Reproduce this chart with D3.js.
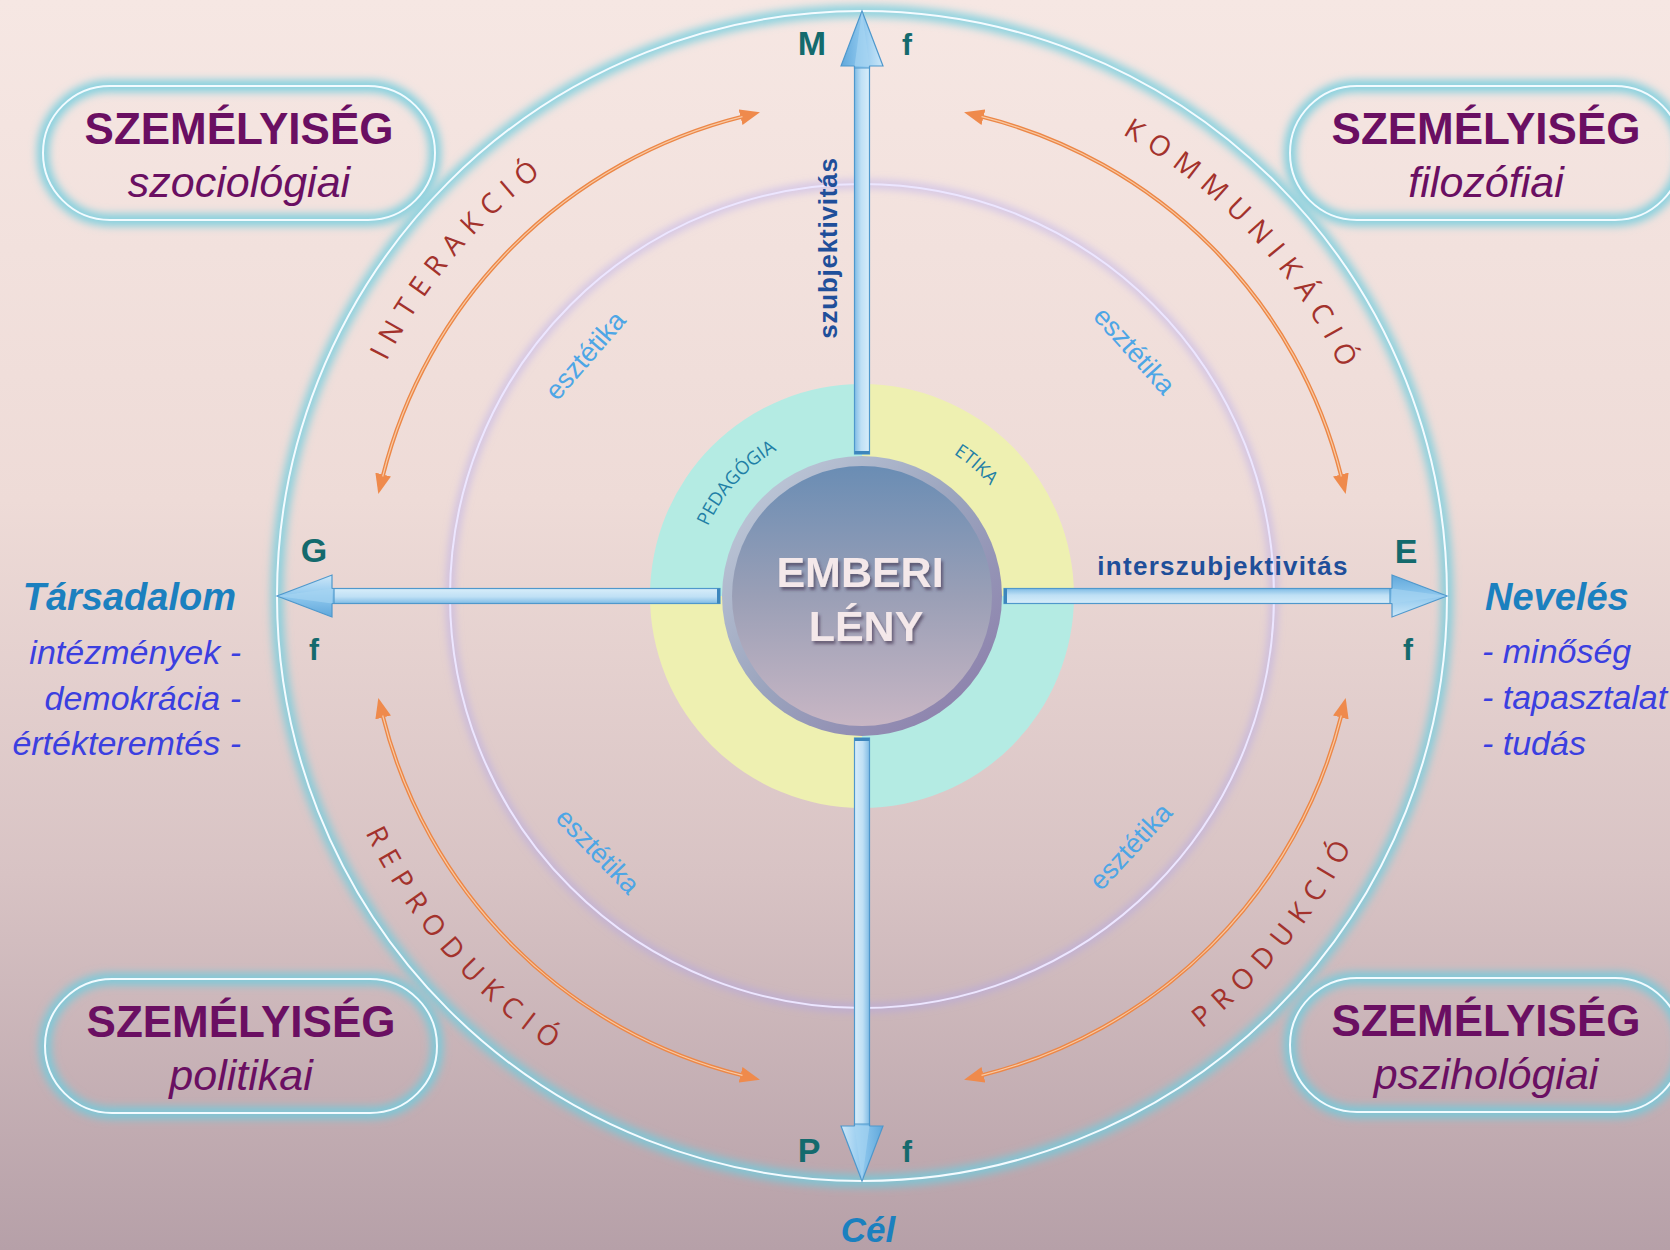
<!DOCTYPE html>
<html>
<head>
<meta charset="utf-8">
<script src="https://cdn.jsdelivr.net/npm/d3@7"></script>
<style>
  html, body { margin: 0; padding: 0; background: #f4e4e0; }
  svg { display: block; }
</style>
</head>
<body>
<div id="chart"></div>
<script>
// --- diagram content ---
const axisLetters = ['M', 'E', 'P', 'G'];
const axisAngles = [0, 90, 180, 270];           // degrees, clockwise from top
const axisTexts = ['szubjektivitás', 'interszubjektivitás'];
const centerLines = ['EMBERI', 'LÉNY'];
const ringLabels = ['PEDAGÓGIA', 'ETIKA'];
const ringLabelAngles = [-48, 41];
const ringColors = ['#b4ebe3', '#eef0b1', '#b4ebe3', '#eef0b1']; // TL, TR, BR, BL
const ringStarts = [-90, 0, 90, 180];
const arcLabels = ['INTERAKCIÓ', 'KOMMUNIKÁCIÓ', 'PRODUKCIÓ', 'REPRODUKCIÓ'];
const arcLabelAngles = [-50, 47.5, 129, 229];
const arcQuadrants = [-90, 0, 90, 180];
const esztetikaLabel = 'esztétika';
const esztetikaAngles = [-49, 48, 133, 226];
const boxTitles = ['SZEMÉLYISÉG', 'SZEMÉLYISÉG', 'SZEMÉLYISÉG', 'SZEMÉLYISÉG'];
const boxSubtitles = ['szociológiai', 'filozófiai', 'pszihológiai', 'politikai'];
const leftTitle = 'Társadalom';
const leftItems = ['intézmények -', 'demokrácia -', 'értékteremtés -'];
const rightTitle = 'Nevelés';
const rightItems = ['- minőség', '- tapasztalat', '- tudás'];
const bottomTitle = 'Cél';

const W = 1670, H = 1250;
const cx = 862, cy = 596;
const R_OUTER = 585, R_ORANGE = 494, R_INNER = 412, R_RING = 212, R_DISC = 140;

const rad = d3.scaleLinear().domain([0, 360]).range([0, 2 * Math.PI]);
const pt = (r, deg) => [cx + r * Math.sin(rad(deg)), cy - r * Math.cos(rad(deg))];

const svg = d3.select('#chart').append('svg')
  .attr('width', W).attr('height', H)
  .style('font-family', '"Liberation Sans", Arial, sans-serif');

const defs = svg.append('defs');

// background gradient
const bg = defs.append('linearGradient').attr('id', 'bg').attr('x1', 0).attr('y1', 0).attr('x2', 0).attr('y2', 1);
[['0%', '#f6e7e3'], ['40%', '#eedbd7'], ['70%', '#d8c3c4'], ['100%', '#b6a0a8']]
  .forEach(([o, c]) => bg.append('stop').attr('offset', o).attr('stop-color', c));

defs.append('filter').attr('id', 'glow').attr('x', '-20%').attr('y', '-20%').attr('width', '140%').attr('height', '140%')
  .append('feGaussianBlur').attr('stdDeviation', 4);

const shadow = defs.append('filter').attr('id', 'shadow').attr('x', '-20%').attr('y', '-20%').attr('width', '140%').attr('height', '140%');
shadow.append('feDropShadow').attr('dx', 2).attr('dy', 3).attr('stdDeviation', 1.5)
  .attr('flood-color', '#3c2c48').attr('flood-opacity', 0.6);

// disc gradients
const discFill = defs.append('linearGradient').attr('id', 'discFill').attr('x1', 0).attr('y1', 0).attr('x2', 0).attr('y2', 1);
[['0%', '#6a8db4'], ['50%', '#9a9fb6'], ['100%', '#c8b6c4']]
  .forEach(([o, c]) => discFill.append('stop').attr('offset', o).attr('stop-color', c));
const discRim = defs.append('linearGradient').attr('id', 'discRim').attr('x1', 0).attr('y1', 0).attr('x2', 1).attr('y2', 1);
[['0%', '#c6d0de'], ['50%', '#9aa3bd'], ['100%', '#8a78a8']]
  .forEach(([o, c]) => discRim.append('stop').attr('offset', o).attr('stop-color', c));

// blue bar gradients (across the bar width, in local coords)
const barGrad = defs.append('linearGradient').attr('id', 'barGrad')
  .attr('gradientUnits', 'userSpaceOnUse').attr('x1', 0).attr('y1', -8).attr('x2', 0).attr('y2', 8);
[['0%', '#7bb9e4'], ['45%', '#bfe0f5'], ['100%', '#d9eefa']]
  .forEach(([o, c]) => barGrad.append('stop').attr('offset', o).attr('stop-color', c));
const headGrad = defs.append('linearGradient').attr('id', 'headGrad')
  .attr('gradientUnits', 'userSpaceOnUse').attr('x1', 0).attr('y1', -22).attr('x2', 0).attr('y2', 22);
[['0%', '#5ea6da'], ['50%', '#8fc8ee'], ['100%', '#cfe8f8']]
  .forEach(([o, c]) => headGrad.append('stop').attr('offset', o).attr('stop-color', c));

// orange arrow marker
defs.append('marker').attr('id', 'orangeHead')
  .attr('viewBox', '0 -8 20 16').attr('refX', 2).attr('refY', 0)
  .attr('markerWidth', 20).attr('markerHeight', 16).attr('markerUnits', 'userSpaceOnUse')
  .attr('orient', 'auto-start-reverse')
  .append('path').attr('d', 'M0,-8L20,0L0,8Z').attr('fill', '#ef8a4c');

svg.append('rect').attr('width', W).attr('height', H).attr('fill', 'url(#bg)');

// --- glowing circles ---
function glowCircle(r, glowColor, lineColor, glowWidth) {
  svg.append('circle').attr('cx', cx).attr('cy', cy).attr('r', r)
    .attr('fill', 'none').attr('stroke', glowColor).attr('stroke-width', glowWidth)
    .attr('filter', 'url(#glow)');
  svg.append('circle').attr('cx', cx).attr('cy', cy).attr('r', r)
    .attr('fill', 'none').attr('stroke', lineColor).attr('stroke-width', 2);
}
glowCircle(R_OUTER, 'rgba(110,205,222,0.8)', '#f4fbff', 12);
glowCircle(R_INNER, 'rgba(170,160,240,0.55)', '#ece6ff', 7);

// --- boxes ---
const boxW = 392, boxH = 134;
const boxCenters = [[239, 153], [1486, 153], [1486, 1045], [241, 1046]];
boxCenters.forEach(([bx, by], i) => {
  const g = svg.append('g').attr('transform', `translate(${bx},${by})`);
  g.append('rect').attr('x', -boxW / 2).attr('y', -boxH / 2).attr('width', boxW).attr('height', boxH)
    .attr('rx', boxH / 2).attr('fill', 'none')
    .attr('stroke', 'rgba(110,205,222,0.85)').attr('stroke-width', 12).attr('filter', 'url(#glow)');
  g.append('rect').attr('x', -boxW / 2).attr('y', -boxH / 2).attr('width', boxW).attr('height', boxH)
    .attr('rx', boxH / 2).attr('fill', 'none').attr('stroke', '#f2fbff').attr('stroke-width', 2);
  g.append('text').attr('text-anchor', 'middle').attr('y', -9)
    .style('font-size', '44px').style('font-weight', 'bold').style('fill', '#6a0f62')
    .text(boxTitles[i]);
  g.append('text').attr('text-anchor', 'middle').attr('y', 44)
    .style('font-size', '43px').style('font-style', 'italic').style('fill', '#6a0f62')
    .text(boxSubtitles[i]);
});

// --- orange double-headed arcs ---
arcQuadrants.forEach(q => {
  const p = d3.path();
  const a0 = rad(q + 14 - 90), a1 = rad(q + 76 - 90);
  p.arc(cx, cy, R_ORANGE, a0, a1, false);
  svg.append('path').attr('d', p.toString()).attr('fill', 'none')
    .attr('stroke', '#ec8747').attr('stroke-width', 4)
    .attr('marker-start', 'url(#orangeHead)').attr('marker-end', 'url(#orangeHead)');
  svg.append('path').attr('d', p.toString()).attr('fill', 'none')
    .attr('stroke', '#f8c9a4').attr('stroke-width', 1.2);
});

// --- labels along the orange arcs ---
arcLabels.forEach((label, i) => {
  const a = arcLabelAngles[i];
  const top = Math.cos(rad(a)) > 0;
  const r = top ? 530 : 550;
  const p = d3.path();
  if (top) {
    p.arc(cx, cy, r, rad(a - 60 - 90), rad(a + 60 - 90), false);
  } else {
    p.arc(cx, cy, r, rad(a + 60 - 90), rad(a - 60 - 90), true);
  }
  const id = 'arcLabel' + i;
  defs.append('path').attr('id', id).attr('d', p.toString());
  svg.append('text')
    .style('font-family', '"Open Sans", sans-serif').style('font-size', '28px')
    .style('letter-spacing', '9.5px').style('fill', '#a3322c')
    .append('textPath').attr('href', '#' + id).attr('startOffset', '50%')
    .attr('text-anchor', 'middle').text(label);
});

// --- esztétika labels ---
esztetikaAngles.forEach(a => {
  const [x, y] = pt(367, a);
  const rot = Math.cos(rad(a)) > 0 ? a : a - 180;
  svg.append('text').attr('transform', `translate(${x},${y}) rotate(${rot})`)
    .attr('text-anchor', 'middle').attr('dy', '0.35em')
    .style('font-size', '27px').style('fill', '#4da6e6')
    .text(esztetikaLabel);
});

// --- pastel ring ---
const ringArc = d3.arc().innerRadius(R_DISC - 4).outerRadius(R_RING);
ringStarts.forEach((s, i) => {
  svg.append('path').attr('transform', `translate(${cx},${cy})`)
    .attr('d', ringArc({ startAngle: rad(s), endAngle: rad(s + 90) }))
    .attr('fill', ringColors[i]);
});
ringLabels.forEach((label, i) => {
  const a = ringLabelAngles[i];
  const p = d3.path();
  p.arc(cx, cy, 169, rad(a - 60 - 90), rad(a + 60 - 90), false);
  const id = 'ringLabel' + i;
  defs.append('path').attr('id', id).attr('d', p.toString());
  svg.append('text')
    .style('font-family', '"Open Sans", sans-serif').style('font-size', '18.5px')
    .style('fill', '#1f7fa6')
    .append('textPath').attr('href', '#' + id).attr('startOffset', '50%')
    .attr('text-anchor', 'middle').text(label);
});

// --- blue axis arrows ---
const barStart = R_DISC + 2, headLen = 55, headHalf = 21, barHalf = 7.5;
axisAngles.forEach(a => {
  const g = svg.append('g').attr('transform', `translate(${cx},${cy}) rotate(${a - 90})`);
  g.append('rect').attr('x', barStart).attr('y', -barHalf)
    .attr('width', R_OUTER - headLen - barStart + 2).attr('height', barHalf * 2)
    .attr('fill', 'url(#barGrad)').attr('stroke', '#4f98cc').attr('stroke-width', 1.2);
  g.append('rect').attr('x', barStart).attr('y', -barHalf).attr('width', 3).attr('height', barHalf * 2)
    .attr('fill', '#3d86bd');
  const base = R_OUTER - headLen;
  g.append('path')
    .attr('d', `M${base},${-headHalf}L${R_OUTER},0L${base},${headHalf}L${base},${barHalf}L${base - 2},${barHalf}L${base - 2},${-barHalf}L${base},${-barHalf}Z`)
    .attr('fill', 'url(#headGrad)').attr('stroke', '#4f98cc').attr('stroke-width', 1.2);
  g.append('path')
    .attr('d', `M${base},${-barHalf}L${R_OUTER},0L${base},${barHalf}Z`)
    .attr('fill', '#a9d6f2').attr('opacity', 0.6);
});

// --- central disc ---
svg.append('circle').attr('cx', cx).attr('cy', cy).attr('r', R_DISC)
  .attr('fill', 'url(#discRim)');
svg.append('circle').attr('cx', cx).attr('cy', cy).attr('r', R_DISC - 10)
  .attr('fill', 'url(#discFill)');
centerLines.forEach((line, i) => {
  svg.append('text').attr('x', cx + (i === 0 ? -2 : 4)).attr('y', cy - 9 + i * 54)
    .attr('text-anchor', 'middle')
    .style('font-size', '43px').style('font-weight', 'bold').style('fill', '#f4e8ea')
    .attr('filter', 'url(#shadow)')
    .text(line);
});

// --- axis texts ---
svg.append('text').attr('transform', `translate(${cx - 25},248) rotate(-90)`)
  .attr('text-anchor', 'middle')
  .style('font-size', '26px').style('font-weight', 'bold').style('fill', '#1f4f9a')
  .style('letter-spacing', '0.8px')
  .text(axisTexts[0]);
svg.append('text').attr('x', 1223).attr('y', 575)
  .attr('text-anchor', 'middle')
  .style('font-size', '26px').style('font-weight', 'bold').style('fill', '#1f4f9a')
  .style('letter-spacing', '1.3px')
  .text(axisTexts[1]);

// --- axis letters (with their "f") ---
const letterPos = [
  [[cx - 50, cy - 541], [cx + 45, cy - 541]],
  [[cx + 544, cy - 33], [cx + 546, cy + 64]],
  [[cx - 53, cy + 566], [cx + 45, cy + 566]],
  [[cx - 548, cy - 34], [cx - 548, cy + 64]]
];
axisLetters.forEach((l, i) => {
  const [[lx, ly], [fx, fy]] = letterPos[i];
  svg.append('text').attr('x', lx).attr('y', ly).attr('text-anchor', 'middle')
    .style('font-size', '34px').style('font-weight', 'bold').style('fill', '#146a6d').text(l);
  svg.append('text').attr('x', fx).attr('y', fy).attr('text-anchor', 'middle')
    .style('font-size', '30px').style('font-weight', 'bold').style('fill', '#146a6d').text('f');
});

// --- side texts ---
svg.append('text').attr('x', 236).attr('y', 610).attr('text-anchor', 'end')
  .style('font-size', '38px').style('font-weight', 'bold').style('font-style', 'italic')
  .style('fill', '#1b80bf').text(leftTitle);
leftItems.forEach((t, i) => {
  svg.append('text').attr('x', 241).attr('y', 664 + i * 45.5).attr('text-anchor', 'end')
    .style('font-size', '34px').style('font-style', 'italic').style('fill', '#3b3fe0').text(t);
});
svg.append('text').attr('x', 1485).attr('y', 610)
  .style('font-size', '38px').style('font-weight', 'bold').style('font-style', 'italic')
  .style('fill', '#1b80bf').text(rightTitle);
rightItems.forEach((t, i) => {
  svg.append('text').attr('x', 1482).attr('y', 663 + i * 46)
    .style('font-size', '34px').style('font-style', 'italic').style('fill', '#3b3fe0').text(t);
});
svg.append('text').attr('x', 868).attr('y', 1242).attr('text-anchor', 'middle')
  .style('font-size', '35px').style('font-weight', 'bold').style('font-style', 'italic')
  .style('fill', '#1b80bf').text(bottomTitle);
</script>
</body>
</html>
